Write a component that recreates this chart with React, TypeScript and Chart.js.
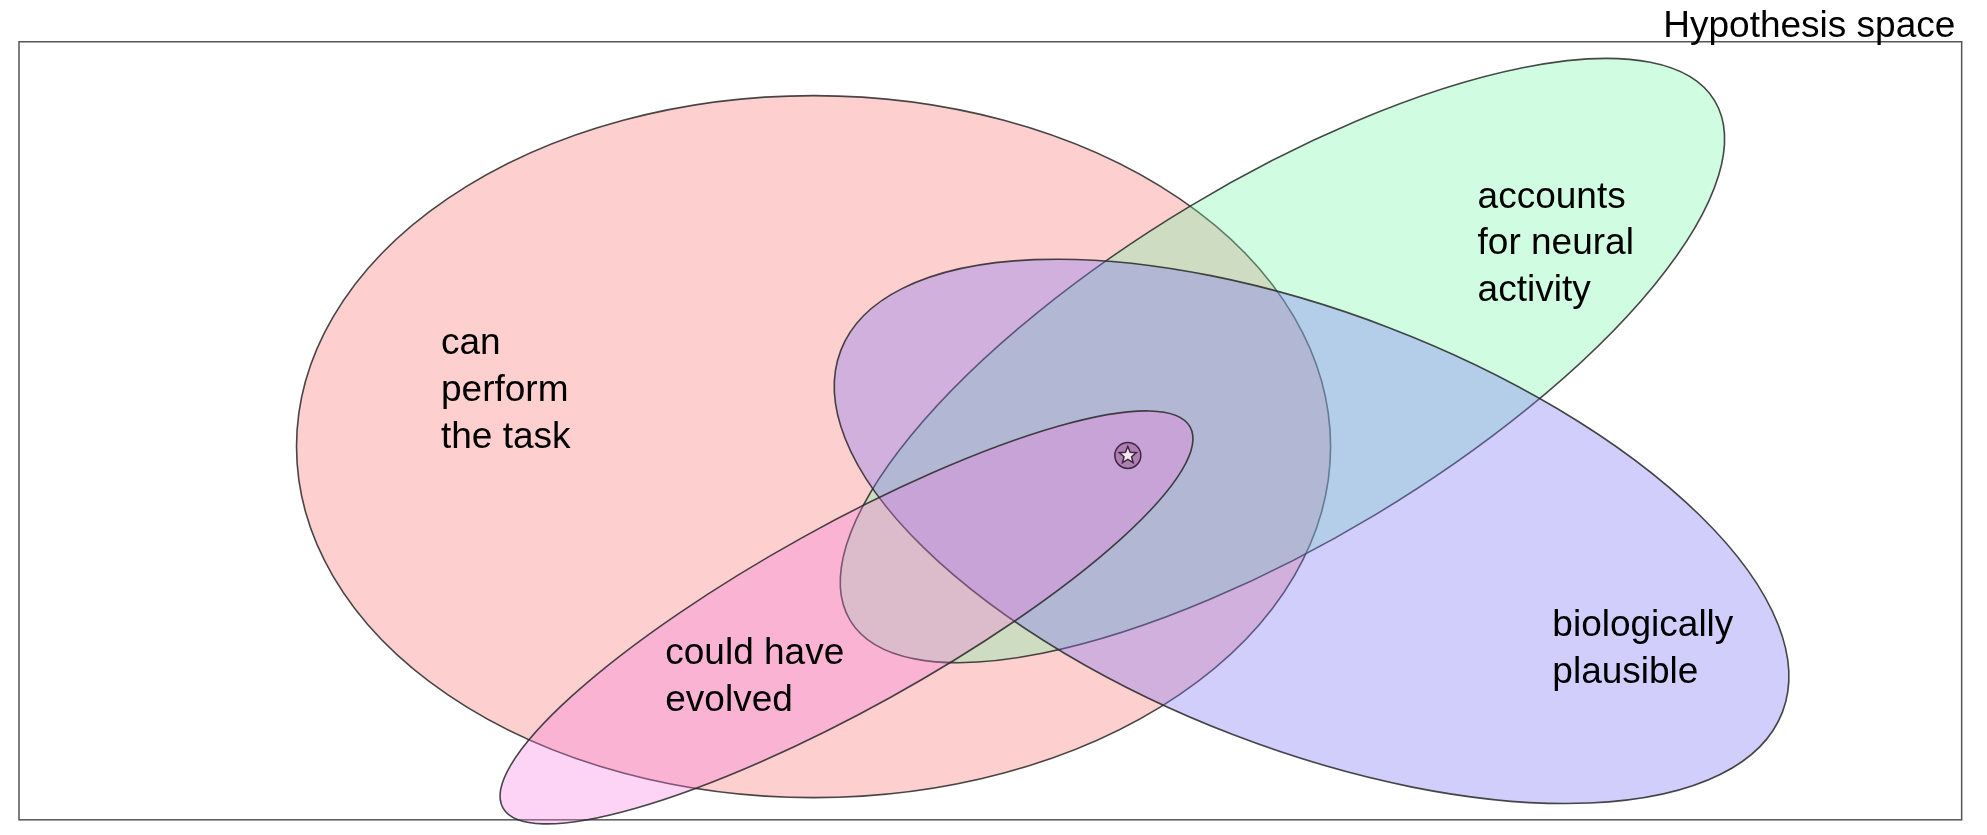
import { useEffect, useRef } from "react";
import { Chart, registerables } from "chart.js";

Chart.register(...registerables);

// ellipses in diagram units (x 0..1568, y 0..660, y downwards)
const regionNames = ["can perform the task", "accounts for neural activity", "biologically plausible", "could have evolved"];
const centerX = [642, 1012, 1035, 668];
const centerY = [353, 285, 420, 488];
const radiusA = [408, 398, 398, 310];
const radiusB = [277, 142, 172, 72];
const angleDeg = [0, -31, 21, -29];
const fills = [
  "rgba(250, 110, 110, 0.33)",
  "rgba(110, 250, 165, 0.32)",
  "rgba(130, 120, 245, 0.36)",
  "rgba(250, 120, 225, 0.32)",
];

const labelLines = [["can", "perform", "the task"], ["accounts", "for neural", "activity"], ["biologically", "plausible"], ["could have", "evolved"]];
const labelX = [348, 1166, 1225, 525];
const labelY = [272, 156, 495, 517];
const lineStep = 37;

const starX = [890];
const starY = [360];

export default function App() {
  const chartRef = useRef<HTMLCanvasElement>(null);
  const chartInstance = useRef<Chart | null>(null);

  useEffect(() => {
    if (!chartRef.current) return;
    if (chartInstance.current) chartInstance.current.destroy();
    const ctx = chartRef.current.getContext("2d");
    if (!ctx) return;

    const diagram = {
      id: "diagram",
      beforeDatasetsDraw(chart: any) {
        const c = chart.ctx;
        const xs = chart.scales.x;
        const ys = chart.scales.y;
        const kx = Math.abs(xs.getPixelForValue(1) - xs.getPixelForValue(0));
        c.save();
        // frame
        c.strokeStyle = "#555";
        c.lineWidth = 1.5;
        const x0 = xs.getPixelForValue(15), y0 = ys.getPixelForValue(33);
        c.strokeRect(x0, y0, xs.getPixelForValue(1548) - x0, ys.getPixelForValue(648) - y0);
        c.fillStyle = "#000";
        c.font = "37px 'Liberation Sans', Arial, sans-serif";
        c.textAlign = "right";
        c.textBaseline = "middle";
        c.fillText("Hypothesis space", xs.getPixelForValue(1543), ys.getPixelForValue(21));
        // ellipses
        for (let i = 0; i < regionNames.length; i++) {
          c.beginPath();
          c.ellipse(xs.getPixelForValue(centerX[i]), ys.getPixelForValue(centerY[i]), radiusA[i] * kx, radiusB[i] * kx, (angleDeg[i] * Math.PI) / 180, 0, Math.PI * 2);
          c.fillStyle = fills[i];
          c.fill();
          c.strokeStyle = "rgba(40,40,40,0.85)";
          c.lineWidth = 1.6;
          c.stroke();
        }
        // labels
        c.fillStyle = "#000";
        c.textAlign = "left";
        for (let i = 0; i < labelLines.length; i++) {
          labelLines[i].forEach((t, j) => {
            c.fillText(t, xs.getPixelForValue(labelX[i]), ys.getPixelForValue(labelY[i] + j * lineStep));
          });
        }
        // circled star
        const sx = xs.getPixelForValue(starX[0]), sy = ys.getPixelForValue(starY[0]);
        c.beginPath();
        c.arc(sx, sy, 13, 0, Math.PI * 2);
        c.fillStyle = "rgba(150,90,150,0.5)";
        c.fill();
        c.strokeStyle = "#3a2a3a";
        c.lineWidth = 1.5;
        c.stroke();
        c.beginPath();
        for (let k = 0; k < 10; k++) {
          const r = k % 2 === 0 ? 9 : 4;
          const a = -Math.PI / 2 + (k * Math.PI) / 5;
          const px = sx + r * Math.cos(a), py = sy + r * Math.sin(a);
          if (k === 0) c.moveTo(px, py); else c.lineTo(px, py);
        }
        c.closePath();
        c.fillStyle = "#f6e6f6";
        c.fill();
        c.stroke();
        c.restore();
      },
    };

    chartInstance.current = new Chart(ctx, {
      type: "scatter",
      data: {
        datasets: [{
          data: starX.map((x, i) => ({ x, y: starY[i] })),
          pointRadius: 0,
        }],
      },
      options: {
        animation: false,
        responsive: true,
        maintainAspectRatio: false,
        layout: { padding: 0, autoPadding: false },
        plugins: { legend: { display: false }, tooltip: { enabled: false } },
        scales: {
          x: { type: "linear", min: 0, max: 1568, display: false },
          y: { type: "linear", min: 0, max: 660, reverse: true, display: false },
        },
      },
      plugins: [diagram],
    });

    return () => {
      if (chartInstance.current) {
        chartInstance.current.destroy();
        chartInstance.current = null;
      }
    };
  }, []);

  return (
    <div style={{ position: "fixed", left: 0, top: 0, width: 1987, height: 835, background: "#fff" }}>
      <canvas ref={chartRef}></canvas>
    </div>
  );
}
